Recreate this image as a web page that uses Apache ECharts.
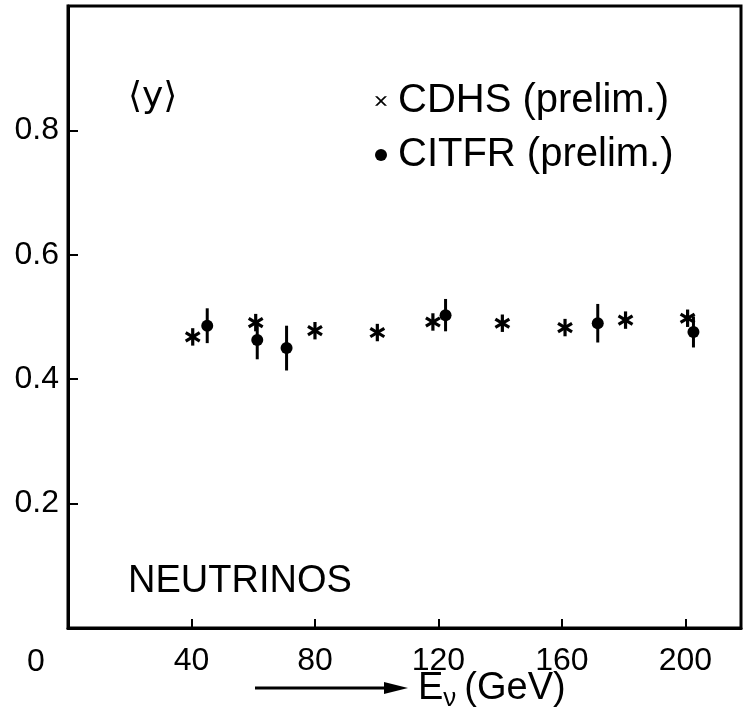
<!DOCTYPE html>
<html>
<head>
<meta charset="utf-8">
<script src="https://cdn.jsdelivr.net/npm/echarts@6/dist/echarts.min.js"></script>
<style>
  html, body { margin: 0; padding: 0; background: #fff; }
  #chart01 { width: 747px; height: 719px; }
</style>
</head>
<body>
<div id="chart01"></div>
<script>
// CDHS (prelim.)
var cdhsE = [40.4, 60.8, 80, 100.2, 118.2, 140.7, 161, 180.6, 200.7];
var cdhsY = [0.468, 0.491, 0.478, 0.475, 0.492, 0.490, 0.483, 0.495, 0.498];
var cdhsErr = [0.014, 0.014, 0.014, 0.014, 0.014, 0.014, 0.014, 0.014, 0.014];
// CITFR (prelim.)
var citfrE = [45.1, 61.3, 70.8, 122.3, 171.6, 202.6];
var citfrY = [0.486, 0.463, 0.450, 0.503, 0.490, 0.476];
var citfrErr = [0.028, 0.031, 0.036, 0.026, 0.031, 0.025];
// tick labels
var xTicks = [40, 80, 120, 160, 200];
var yTicks = [0.2, 0.4, 0.6, 0.8];

var numFont = '"Liberation Sans Narrow", "Liberation Sans", sans-serif';
var txtFont = '"Liberation Sans", Arial, sans-serif';

var cdhsData = [], citfrData = [];
for (var i = 0; i < cdhsE.length; i++) cdhsData.push([cdhsE[i], cdhsY[i], cdhsErr[i]]);
for (var j = 0; j < citfrE.length; j++) citfrData.push([citfrE[j], citfrY[j], citfrErr[j]]);

var chart01 = echarts.init(document.getElementById('chart01'));

// asterisk = x marker + small vertical error bar
function renderStar(params, api) {
    var x = api.value(0), y = api.value(1), e = api.value(2);
    var c = api.coord([x, y]);
    var top = api.coord([x, y + e]);
    var bot = api.coord([x, y - e]);
    var d = 7;
    var st = { stroke: '#000', lineWidth: 3.2 };
    return {
        type: 'group',
        children: [
            { type: 'line', shape: { x1: c[0] - d, y1: c[1] - d * 0.6, x2: c[0] + d, y2: c[1] + d * 0.6 }, style: st },
            { type: 'line', shape: { x1: c[0] - d, y1: c[1] + d * 0.6, x2: c[0] + d, y2: c[1] - d * 0.6 }, style: st },
            { type: 'line', shape: { x1: top[0], y1: top[1], x2: bot[0], y2: bot[1] }, style: st }
        ]
    };
}

function renderBar(params, api) {
    var x = api.value(0), y = api.value(1), e = api.value(2);
    var top = api.coord([x, y + e]);
    var bot = api.coord([x, y - e]);
    return {
        type: 'line',
        shape: { x1: top[0], y1: top[1], x2: bot[0], y2: bot[1] },
        style: { stroke: '#000', lineWidth: 3 }
    };
}

var option01 = {
    backgroundColor: '#fff',
    animation: false,
    grid: {
        left: 68, right: 6, top: 6, bottom: 91,
        show: true, borderColor: '#000', borderWidth: 3
    },
    legend: {
        orient: 'vertical',
        left: 370,
        top: 76,
        itemGap: 14,
        itemWidth: 12,
        itemHeight: 12,
        textStyle: { fontFamily: txtFont, fontSize: 40, color: '#000', padding: [0, 0, 0, 6] },
        data: [
            { name: 'CDHS (prelim.)', icon: 'path://M0,0L2,0L5,3L8,0L10,0L6,4L10,8L8,8L5,5L2,8L0,8L4,4Z' },
            { name: 'CITFR (prelim.)', icon: 'circle' }
        ]
    },
    xAxis: {
        type: 'value',
        min: 0, max: 218, interval: 40,
        splitLine: { show: false },
        axisLine: { lineStyle: { color: '#000', width: 3 } },
        axisTick: { inside: true, length: 9, lineStyle: { color: '#000', width: 2 } },
        axisLabel: {
            margin: 17,
            fontFamily: numFont, fontSize: 32, color: '#000',
            formatter: function (v) { return xTicks.indexOf(v) >= 0 ? String(v) : ''; }
        }
    },
    yAxis: {
        type: 'value',
        min: 0, max: 1.0, interval: 0.2,
        splitLine: { show: false },
        axisLine: { lineStyle: { color: '#000', width: 3 } },
        axisTick: { inside: true, length: 10, lineStyle: { color: '#000', width: 2 } },
        axisLabel: {
            margin: 9,
            fontFamily: numFont, fontSize: 32, color: '#000',
            formatter: function (v) {
                for (var k = 0; k < yTicks.length; k++) {
                    if (Math.abs(yTicks[k] - v) < 1e-6) return yTicks[k].toFixed(1);
                }
                return '';
            }
        }
    },
    graphic: [
        // origin label
        { type: 'text', left: 27, top: 646, style: { text: '0', font: '32px ' + numFont, fill: '#000' } },
        // y axis name
        { type: 'text', left: 128, top: 80, style: { text: '⟨y⟩', font: '36px "DejaVu Sans", sans-serif', fill: '#000' } },
        { type: 'text', left: 128, top: 563, style: { text: 'NEUTRINOS', font: '38px ' + txtFont, fill: '#000' } },
        // arrow + E_nu (GeV)
        { type: 'line', shape: { x1: 255, y1: 688, x2: 395, y2: 688 }, style: { stroke: '#000', lineWidth: 3 } },
        { type: 'polygon', shape: { points: [[384, 682], [408, 688], [384, 694]] }, style: { fill: '#000' } },
        {
            type: 'text', left: 418, top: 670,
            style: {
                text: '{a|E}{s|ν}{b|(GeV)}',
                rich: {
                    a: { fontFamily: txtFont, fontSize: 38, fill: '#000' },
                    s: { fontFamily: txtFont, fontSize: 26, fill: '#000', padding: [20, 0, 0, 0] },
                    b: { fontFamily: txtFont, fontSize: 38, fill: '#000', padding: [0, 0, 0, 8] }
                }
            }
        }
    ],
    series: [
        {
            name: 'CDHS (prelim.)',
            type: 'custom',
            renderItem: renderStar,
            itemStyle: { color: '#000' },
            encode: { x: 0, y: 1 },
            data: cdhsData
        },
        {
            name: 'CITFR (prelim.)',
            type: 'scatter',
            symbol: 'circle',
            symbolSize: 12,
            itemStyle: { color: '#000', opacity: 1 },
            data: citfrData
        },
        {
            type: 'custom',
            renderItem: renderBar,
            encode: { x: 0, y: 1 },
            data: citfrData
        }
    ]
};

chart01.setOption(option01);
</script>
</body>
</html>
